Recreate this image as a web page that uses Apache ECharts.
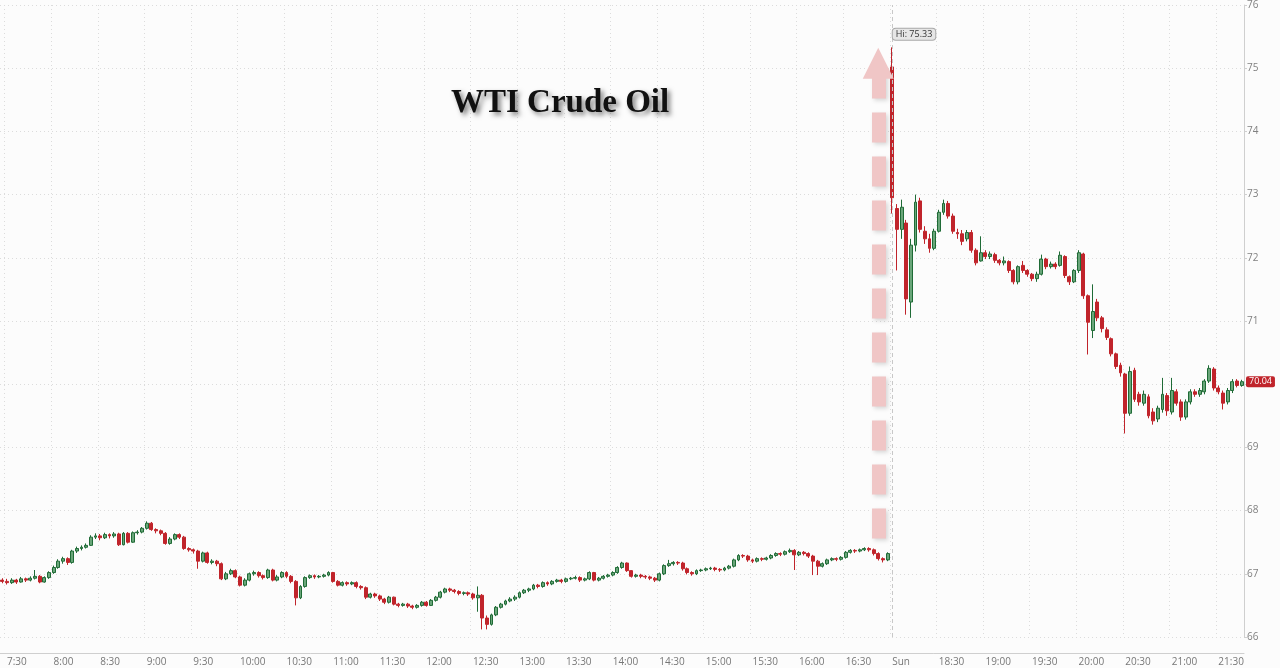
<!DOCTYPE html>
<html>
<head>
<meta charset="utf-8">
<title>WTI Crude Oil</title>
<script src="https://cdn.jsdelivr.net/npm/echarts@6/dist/echarts.min.js"></script>
<style>
    html, body { margin: 0; padding: 0; background: #fcfcfc; }
    #chart { width: 1280px; height: 668px; }
</style>
</head>
<body>
<div id="chart"></div>
<script>
// sessions: friday close at 17:00, reopen sunday 18:00 (3 minute bars)
var sessions = [['7:27', '16:57'], ['18:00', '21:45']];
var stepMin = 3;

// labelled ticks on the time axis
var tickLabels = ['7:30', '8:00', '8:30', '9:00', '9:30', '10:00', '10:30', '11:00', '11:30', '12:00',
    '12:30', '13:00', '13:30', '14:00', '14:30', '15:00', '15:30', '16:00', '16:30',
    '18:00', '18:30', '19:00', '19:30', '20:00', '20:30', '21:00', '21:30'];
var tickText = { '18:00': 'Sun' };

var yMin = 66, yMax = 76, yStep = 1;

// [open, close, low, high]
var fridayBars = [
    [66.90, 66.88, 66.85, 66.93], [66.88, 66.86, 66.83, 66.92], [66.86, 66.90, 66.84, 66.93], [66.90, 66.87, 66.84, 66.92],
    [66.87, 66.92, 66.86, 66.95], [66.92, 66.90, 66.87, 66.94], [66.90, 66.93, 66.88, 66.96], [66.93, 66.96, 66.91, 67.06],
    [66.96, 66.87, 66.85, 66.98], [66.87, 66.94, 66.86, 66.96], [66.94, 67.02, 66.92, 67.04], [67.02, 67.10, 67.00, 67.13],
    [67.10, 67.20, 67.08, 67.23], [67.20, 67.24, 67.16, 67.27], [67.24, 67.18, 67.14, 67.26], [67.18, 67.36, 67.16, 67.38],
    [67.36, 67.40, 67.33, 67.43], [67.40, 67.42, 67.37, 67.45], [67.42, 67.45, 67.40, 67.48], [67.45, 67.58, 67.44, 67.61],
    [67.58, 67.60, 67.55, 67.64], [67.60, 67.57, 67.53, 67.63], [67.57, 67.62, 67.55, 67.65], [67.62, 67.60, 67.56, 67.64],
    [67.60, 67.63, 67.57, 67.66], [67.63, 67.46, 67.44, 67.65], [67.46, 67.64, 67.45, 67.66], [67.64, 67.50, 67.48, 67.66],
    [67.50, 67.65, 67.49, 67.67], [67.65, 67.66, 67.62, 67.69], [67.66, 67.72, 67.64, 67.74], [67.72, 67.80, 67.70, 67.83],
    [67.80, 67.70, 67.68, 67.82], [67.70, 67.68, 67.64, 67.72], [67.68, 67.64, 67.61, 67.70], [67.64, 67.48, 67.46, 67.66],
    [67.48, 67.55, 67.46, 67.58], [67.55, 67.62, 67.53, 67.64], [67.62, 67.58, 67.55, 67.64], [67.58, 67.40, 67.38, 67.60],
    [67.40, 67.38, 67.35, 67.42], [67.38, 67.36, 67.32, 67.40], [67.36, 67.20, 67.08, 67.38], [67.20, 67.33, 67.18, 67.35],
    [67.33, 67.18, 67.16, 67.35], [67.18, 67.20, 67.15, 67.23], [67.20, 67.16, 67.12, 67.22], [67.16, 66.92, 66.90, 67.18],
    [66.92, 67.00, 66.90, 67.03], [67.00, 67.05, 66.98, 67.08], [67.05, 66.95, 66.93, 67.07], [66.95, 66.82, 66.80, 66.97],
    [66.82, 66.90, 66.80, 66.93], [66.90, 67.00, 66.88, 67.02], [67.00, 67.02, 66.97, 67.05], [67.02, 66.97, 66.94, 67.04],
    [66.97, 66.94, 66.91, 66.99], [66.94, 67.06, 66.92, 67.08], [67.06, 66.90, 66.88, 67.08], [66.90, 66.95, 66.88, 66.98],
    [66.95, 67.02, 66.93, 67.04], [67.02, 66.96, 66.93, 67.04], [66.96, 66.88, 66.85, 66.98], [66.88, 66.62, 66.50, 66.90],
    [66.62, 66.80, 66.60, 66.82], [66.80, 66.94, 66.78, 66.96], [66.94, 66.97, 66.92, 66.99], [66.97, 66.95, 66.92, 66.99],
    [66.95, 66.96, 66.93, 66.98], [66.96, 66.98, 66.94, 67.00], [66.98, 67.02, 66.96, 67.04], [67.02, 66.88, 66.86, 67.03],
    [66.88, 66.82, 66.80, 66.90], [66.82, 66.86, 66.80, 66.88], [66.86, 66.84, 66.81, 66.88], [66.84, 66.86, 66.82, 66.88],
    [66.86, 66.80, 66.77, 66.88], [66.80, 66.78, 66.75, 66.82], [66.78, 66.63, 66.60, 66.80], [66.63, 66.68, 66.61, 66.70],
    [66.68, 66.65, 66.62, 66.70], [66.65, 66.60, 66.57, 66.67], [66.60, 66.55, 66.52, 66.62], [66.55, 66.63, 66.53, 66.65],
    [66.63, 66.52, 66.50, 66.64], [66.52, 66.50, 66.47, 66.54], [66.50, 66.52, 66.48, 66.54], [66.52, 66.49, 66.46, 66.54],
    [66.49, 66.47, 66.44, 66.51], [66.47, 66.50, 66.45, 66.52], [66.50, 66.55, 66.48, 66.57], [66.55, 66.50, 66.48, 66.57],
    [66.50, 66.58, 66.49, 66.60], [66.58, 66.63, 66.56, 66.65], [66.63, 66.71, 66.61, 66.73], [66.71, 66.76, 66.69, 66.78],
    [66.76, 66.74, 66.71, 66.78], [66.74, 66.72, 66.69, 66.76], [66.72, 66.69, 66.66, 66.74], [66.69, 66.70, 66.66, 66.72],
    [66.70, 66.68, 66.65, 66.72], [66.68, 66.62, 66.59, 66.70], [66.62, 66.66, 66.40, 66.80], [66.66, 66.30, 66.12, 66.68],
    [66.30, 66.20, 66.12, 66.34], [66.20, 66.35, 66.18, 66.37], [66.35, 66.47, 66.33, 66.49], [66.47, 66.52, 66.45, 66.54],
    [66.52, 66.57, 66.50, 66.59], [66.57, 66.60, 66.55, 66.63], [66.60, 66.63, 66.57, 66.66], [66.63, 66.70, 66.61, 66.72],
    [66.70, 66.74, 66.68, 66.76], [66.74, 66.76, 66.71, 66.78], [66.76, 66.82, 66.74, 66.84], [66.82, 66.80, 66.77, 66.84],
    [66.80, 66.86, 66.78, 66.88], [66.86, 66.84, 66.81, 66.88], [66.84, 66.88, 66.82, 66.90], [66.88, 66.90, 66.86, 66.92],
    [66.90, 66.88, 66.85, 66.92], [66.88, 66.92, 66.86, 66.94], [66.92, 66.93, 66.90, 66.95], [66.93, 66.94, 66.91, 66.97],
    [66.94, 66.90, 66.87, 66.96], [66.90, 66.92, 66.88, 66.94], [66.92, 67.02, 66.90, 67.04], [67.02, 66.90, 66.88, 67.03],
    [66.90, 66.93, 66.88, 66.95], [66.93, 66.96, 66.91, 66.98], [66.96, 66.98, 66.94, 67.00], [66.98, 67.02, 66.96, 67.04],
    [67.02, 67.10, 67.00, 67.12], [67.10, 67.17, 67.08, 67.19], [67.17, 67.05, 67.03, 67.18], [67.05, 66.96, 66.94, 67.06],
    [66.96, 66.98, 66.94, 67.00], [66.98, 66.96, 66.93, 67.00], [66.96, 66.95, 66.92, 66.98], [66.95, 66.93, 66.90, 66.97],
    [66.93, 66.90, 66.87, 66.95], [66.90, 67.00, 66.88, 67.02], [67.00, 67.13, 66.98, 67.15], [67.13, 67.16, 67.11, 67.22],
    [67.16, 67.18, 67.13, 67.20], [67.18, 67.17, 67.14, 67.20], [67.17, 67.08, 67.05, 67.19], [67.08, 67.02, 66.99, 67.10],
    [67.02, 67.00, 66.97, 67.04], [67.00, 67.05, 66.98, 67.07], [67.05, 67.06, 67.03, 67.08], [67.06, 67.08, 67.04, 67.10],
    [67.08, 67.09, 67.06, 67.11], [67.09, 67.07, 67.04, 67.11], [67.07, 67.06, 67.03, 67.09], [67.06, 67.09, 67.04, 67.11],
    [67.09, 67.12, 67.07, 67.14], [67.12, 67.22, 67.10, 67.24], [67.22, 67.29, 67.20, 67.31], [67.29, 67.28, 67.25, 67.31],
    [67.28, 67.22, 67.19, 67.30], [67.22, 67.20, 67.17, 67.24], [67.20, 67.24, 67.18, 67.26], [67.24, 67.23, 67.20, 67.26],
    [67.23, 67.25, 67.21, 67.27], [67.25, 67.29, 67.23, 67.31], [67.29, 67.32, 67.27, 67.34], [67.32, 67.31, 67.28, 67.34],
    [67.31, 67.35, 67.29, 67.37], [67.35, 67.37, 67.33, 67.40], [67.37, 67.30, 67.06, 67.39], [67.30, 67.34, 67.28, 67.36],
    [67.34, 67.32, 67.29, 67.36], [67.32, 67.28, 67.25, 67.34], [67.28, 67.20, 66.98, 67.30], [67.20, 67.12, 66.98, 67.22],
    [67.12, 67.16, 67.10, 67.18], [67.16, 67.22, 67.14, 67.24], [67.22, 67.24, 67.20, 67.26], [67.24, 67.23, 67.20, 67.26],
    [67.23, 67.26, 67.21, 67.28], [67.26, 67.34, 67.24, 67.36], [67.34, 67.37, 67.32, 67.39], [67.37, 67.36, 67.33, 67.39],
    [67.36, 67.38, 67.34, 67.40], [67.38, 67.40, 67.36, 67.42], [67.40, 67.38, 67.35, 67.42], [67.38, 67.32, 67.29, 67.40],
    [67.32, 67.24, 67.21, 67.34], [67.24, 67.22, 67.18, 67.26], [67.22, 67.32, 67.20, 67.34]
];

var sundayBars = [
    [75.02, 72.95, 72.70, 75.33], [72.78, 72.45, 71.80, 72.85], [72.45, 72.80, 72.30, 72.92], [72.55, 71.35, 71.10, 72.60],
    [71.30, 72.20, 71.05, 72.30], [72.20, 72.88, 72.10, 73.00], [72.90, 72.45, 72.40, 72.95], [72.42, 72.30, 72.22, 72.50],
    [72.30, 72.15, 72.08, 72.38], [72.15, 72.42, 72.12, 72.46], [72.42, 72.72, 72.40, 72.76], [72.72, 72.86, 72.68, 72.92],
    [72.86, 72.66, 72.62, 72.90], [72.66, 72.42, 72.38, 72.70], [72.40, 72.38, 72.30, 72.46], [72.38, 72.26, 72.20, 72.44],
    [72.30, 72.40, 72.26, 72.44], [72.40, 72.12, 72.08, 72.44], [72.12, 71.92, 71.88, 72.15], [71.95, 72.08, 71.94, 72.34],
    [72.08, 72.02, 71.98, 72.12], [72.02, 72.06, 71.98, 72.10], [72.05, 71.96, 71.92, 72.08], [71.96, 71.92, 71.88, 71.98],
    [71.92, 71.95, 71.88, 72.02], [71.94, 71.80, 71.76, 71.96], [71.80, 71.62, 71.58, 71.82], [71.62, 71.86, 71.58, 71.88],
    [71.88, 71.80, 71.76, 71.95], [71.80, 71.74, 71.70, 71.82], [71.74, 71.67, 71.63, 71.76], [71.67, 71.74, 71.62, 71.78],
    [71.74, 71.98, 71.72, 72.05], [71.98, 71.86, 71.82, 72.00], [71.86, 71.90, 71.83, 71.94], [71.90, 71.86, 71.82, 71.93],
    [71.88, 72.04, 71.86, 72.10], [72.02, 71.72, 71.68, 72.04], [71.70, 71.62, 71.57, 71.72], [71.62, 71.80, 71.60, 71.82],
    [71.80, 72.08, 71.76, 72.12], [72.06, 71.40, 71.35, 72.08], [71.40, 70.98, 70.47, 71.42], [70.85, 71.15, 70.73, 71.58],
    [71.30, 71.05, 71.00, 71.35], [71.05, 70.88, 70.82, 71.08], [70.86, 70.74, 70.70, 70.90], [70.72, 70.48, 70.44, 70.74],
    [70.48, 70.28, 70.24, 70.50], [70.30, 70.18, 70.12, 70.34], [70.16, 69.54, 69.22, 70.18], [69.54, 70.20, 69.50, 70.28],
    [70.22, 69.76, 69.72, 70.26], [69.84, 69.72, 69.66, 69.88], [69.70, 69.84, 69.66, 69.90], [69.80, 69.50, 69.46, 69.84],
    [69.56, 69.42, 69.36, 69.62], [69.45, 69.62, 69.40, 69.66], [69.60, 69.84, 69.55, 70.10], [69.82, 69.58, 69.50, 69.86],
    [69.56, 69.90, 69.52, 70.10], [69.88, 69.70, 69.66, 69.92], [69.72, 69.48, 69.42, 69.76], [69.48, 69.72, 69.44, 69.76],
    [69.72, 69.88, 69.68, 69.92], [69.88, 69.84, 69.80, 69.92], [69.84, 69.90, 69.80, 69.94], [69.88, 70.05, 69.84, 70.08],
    [70.05, 70.25, 70.02, 70.30], [70.24, 69.94, 69.90, 70.27], [69.94, 69.88, 69.84, 69.98], [69.86, 69.70, 69.60, 69.90],
    [69.72, 69.90, 69.68, 69.94], [69.90, 70.04, 69.86, 70.08], [70.05, 69.98, 69.95, 70.08], [69.98, 70.04, 69.96, 70.07]
];

// arrow annotation: drawn at this bar, between these prices
var arrowAt = '16:51';
var arrowFrom = 67.56, arrowTo = 75.08;

function toMin(t) {
    var p = t.split(':');
    return +p[0] * 60 + +p[1];
}
function toTime(m) {
    var mm = m % 60;
    return Math.floor(m / 60) + ':' + (mm < 10 ? '0' + mm : mm);
}

var times = [];
sessions.forEach(function (s) {
    for (var m = toMin(s[0]); m <= toMin(s[1]); m += stepMin) {
        times.push(toTime(m));
    }
});
var bars = fridayBars.concat(sundayBars);
var lastClose = bars[bars.length - 1][1];

function isTick(idx, value) {
    return tickLabels.indexOf(value) >= 0;
}

var chart = echarts.init(document.getElementById('chart'));

var option = {
    backgroundColor: '#fcfcfc',
    animation: false,
    title: {
        text: 'WTI Crude Oil',
        left: 446,
        top: 82,
        textStyle: {
            fontFamily: 'Liberation Serif',
            fontWeight: 'bold',
            fontSize: 33,
            color: '#111',
            textShadowColor: 'rgba(0,0,0,0.5)',
            textShadowBlur: 5,
            textShadowOffsetX: 3,
            textShadowOffsetY: 3
        }
    },
    grid: {
        left: 0,
        right: 36,
        top: 2.5,
        bottom: 31
    },
    xAxis: {
        type: 'category',
        data: times,
        boundaryGap: true,
        offset: 16,
        axisLine: { lineStyle: { color: '#cfcfcf' } },
        axisTick: { show: false },
        axisLabel: {
            interval: isTick,
            align: 'left',
            margin: 4,
            color: '#777',
            fontSize: 10,
            fontFamily: 'Open Sans',
            formatter: function (v) { return tickText[v] || v; }
        },
        splitLine: {
            show: true,
            interval: isTick,
            lineStyle: { color: '#dcdcdc', type: [1, 3] }
        }
    },
    yAxis: {
        type: 'value',
        position: 'right',
        min: yMin,
        max: yMax,
        interval: yStep,
        axisLine: { show: true, lineStyle: { color: '#cfcfcf' } },
        axisTick: { show: true, length: 3, lineStyle: { color: '#cfcfcf' } },
        axisLabel: {
            margin: 3,
            color: '#808080',
            fontSize: 10,
            fontFamily: 'Open Sans'
        },
        splitLine: {
            show: true,
            lineStyle: { color: '#dcdcdc', type: [1, 3] }
        }
    },
    series: [{
        type: 'candlestick',
        data: bars,
        barWidth: 3.4,
        itemStyle: {
            color: '#6aa67a',
            borderColor: '#1f6b36',
            color0: '#c0242b',
            borderColor0: '#c0242b',
            borderWidth: 1
        },
        markPoint: {
            silent: true,
            symbol: 'rect',
            symbolSize: 1,
            itemStyle: { color: 'rgba(0,0,0,0)' },
            data: [{
                type: 'max',
                valueDim: 'highest',
                label: {
                    show: true,
                    position: [1, -18],
                    formatter: function (p) { return 'Hi: ' + p.value.toFixed(2); },
                    color: '#333',
                    fontSize: 9,
                    fontFamily: 'Open Sans',
                    backgroundColor: '#e6e6e6',
                    borderColor: '#a8a8a8',
                    borderWidth: 1,
                    borderRadius: 3,
                    padding: [1, 3]
                }
            }]
        },
        markLine: {
            silent: true,
            symbol: ['none', 'none'],
            animation: false,
            data: [
                {
                    xAxis: '18:00',
                    lineStyle: { color: '#c8c8c8', type: [4, 3], width: 1 },
                    label: { show: false }
                },
                {
                    yAxis: lastClose,
                    lineStyle: { color: 'rgba(0,0,0,0)', width: 0 },
                    label: {
                        show: true,
                        position: 'end',
                        distance: 2,
                        formatter: function () { return lastClose.toFixed(2); },
                        color: '#fff',
                        fontSize: 9,
                        fontFamily: 'Open Sans',
                        backgroundColor: '#c0242b',
                        borderRadius: 2,
                        padding: [1, 3]
                    }
                },
                [
                    {
                        coord: [arrowAt, arrowFrom],
                        symbol: 'none',
                        lineStyle: {
                            color: '#f0c6c6',
                            width: 14,
                            type: [30, 14],
                            cap: 'butt',
                            shadowColor: 'rgba(0,0,0,0.15)',
                            shadowBlur: 4,
                            shadowOffsetX: 2,
                            shadowOffsetY: 2
                        },
                        label: { show: false }
                    },
                    {
                        coord: [arrowAt, arrowTo],
                        symbol: 'triangle',
                        symbolSize: 31
                    }
                ]
            ]
        }
    }]
};

chart.setOption(option);
</script>
</body>
</html>
